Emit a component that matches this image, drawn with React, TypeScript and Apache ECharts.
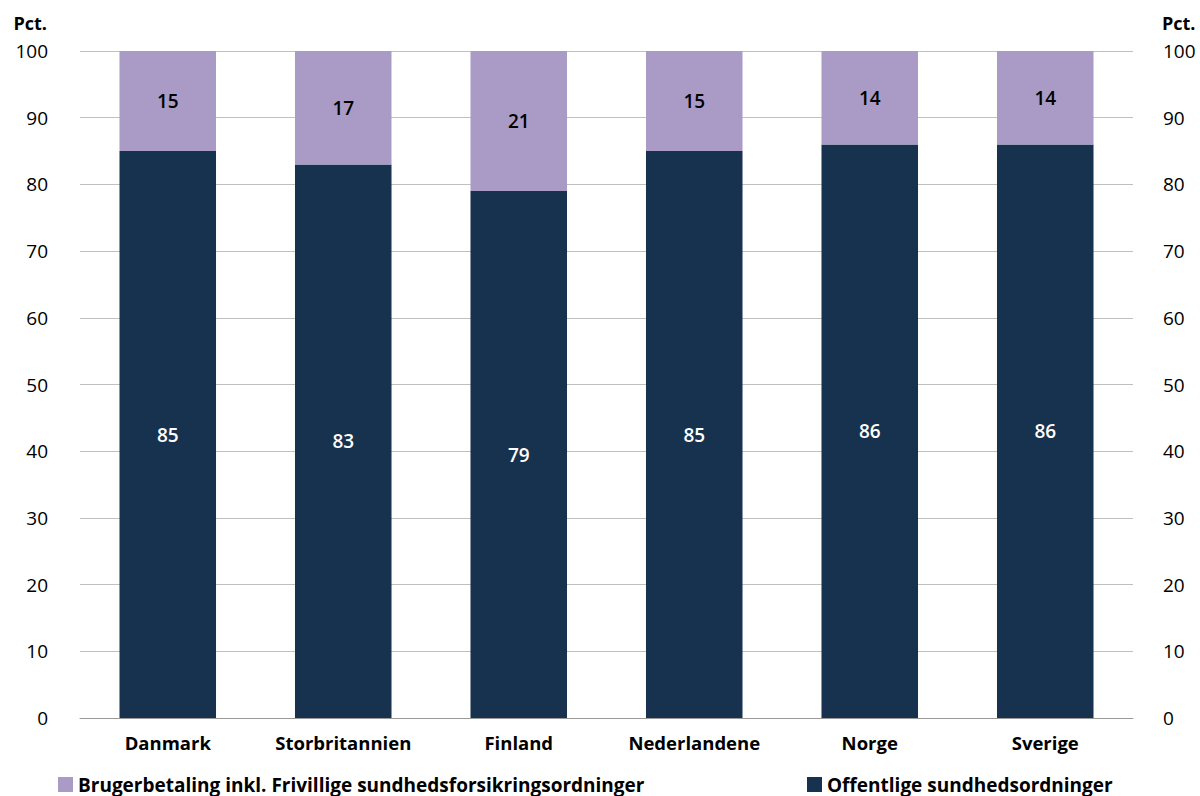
import React, { useEffect, useRef } from "react";
import * as echarts from "echarts";

const categories = ["Danmark", "Storbritannien", "Finland", "Nederlandene", "Norge", "Sverige"];
const offentlige = [85, 83, 79, 85, 86, 86];
const brugerbetaling = [15, 17, 21, 15, 14, 14];
const seriesNames = ["Offentlige sundhedsordninger", "Brugerbetaling inkl. Frivillige sundhedsforsikringsordninger"];
const FONT = "'Open Sans', 'Noto Sans', sans-serif";

export default function App() {
  const ref = useRef<HTMLDivElement>(null);
  useEffect(() => {
    const chart = echarts.init(ref.current!, null, { renderer: "svg" });
    const axisLabel = { fontFamily: FONT, fontSize: 19, color: "#000" };
    const legendText = { fontFamily: FONT, fontSize: 19, fontWeight: "bold", color: "#000" };
    chart.setOption({
      animation: false,
      grid: { left: 80, right: 67, top: 51, bottom: 78 },
      xAxis: {
        type: "category",
        data: categories,
        axisTick: { show: false },
        axisLine: { lineStyle: { color: "#999", width: 1 } },
        axisLabel: { ...axisLabel, fontSize: 18.5, fontWeight: "bold", margin: 15, interval: 0 },
      },
      yAxis: [
        {
          type: "value", min: 0, max: 100, interval: 10, position: "left",
          name: "Pct.", nameLocation: "end", nameGap: 19,
          nameTextStyle: { fontFamily: FONT, fontSize: 18, fontWeight: "bold", color: "#000", align: "right", padding: [0, 33, 0, 0] },
          axisLabel: { ...axisLabel, margin: 32 },
          splitLine: { lineStyle: { color: "#c0c0c0" } },
          axisLine: { show: false }, axisTick: { show: false },
        },
        {
          type: "value", min: 0, max: 100, interval: 10, position: "right",
          name: "Pct.", nameLocation: "end", nameGap: 19,
          nameTextStyle: { fontFamily: FONT, fontSize: 18, fontWeight: "bold", color: "#000", align: "left", padding: [0, 0, 0, 29] },
          axisLabel: { ...axisLabel, margin: 30 },
          splitLine: { show: false },
          axisLine: { show: false }, axisTick: { show: false },
        },
      ],
      legend: [
        {
          data: [seriesNames[1]], left: 53, top: 770, itemWidth: 15, itemHeight: 15, icon: "rect",
          textStyle: legendText,
        },
        {
          data: [seriesNames[0]], left: 802, top: 770, itemWidth: 15, itemHeight: 15, icon: "rect",
          textStyle: legendText,
        },
      ],
      series: [
        {
          name: seriesNames[0], type: "bar", stack: "total", data: offentlige, barWidth: "55%",
          itemStyle: { color: "#17324f" },
          label: { show: true, position: "inside", color: "#fff", fontFamily: FONT, fontSize: 19, fontWeight: 600 },
        },
        {
          name: seriesNames[1], type: "bar", stack: "total", data: brugerbetaling, barWidth: "55%",
          itemStyle: { color: "#a99bc6" },
          label: { show: true, position: "inside", color: "#000", fontFamily: FONT, fontSize: 19, fontWeight: 600 },
        },
      ],
    });
    return () => chart.dispose();
  }, []);
  return <div ref={ref} style={{ width: 1200, height: 796, position: "absolute", left: 0, top: 0 }} />;
}
